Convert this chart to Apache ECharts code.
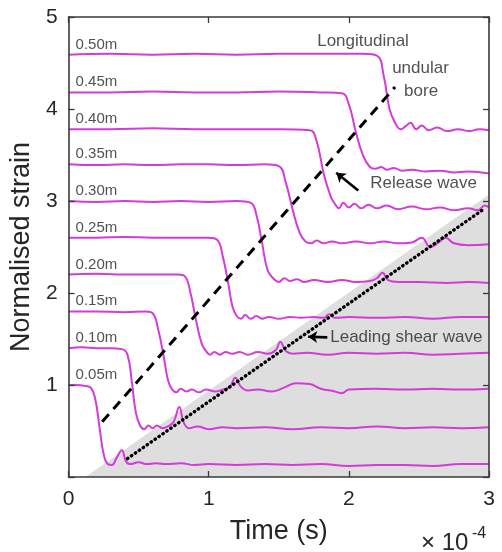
<!DOCTYPE html>
<html>
<head>
<meta charset="utf-8">
<script src="https://cdn.jsdelivr.net/npm/echarts@6/dist/echarts.min.js"></script>
<style>
  html, body { margin: 0; padding: 0; background: #fff; }
  #chart { width: 502px; height: 552px; }
</style>
</head>
<body>
<div id="chart"></div>
<script>
// strain traces, time in units of 1e-4 s, one per gauge depth
const CURVE_LABELS = ["0.05m", "0.10m", "0.15m", "0.20m", "0.25m", "0.30m", "0.35m", "0.40m", "0.45m", "0.50m"];

const S005 = [[0,1.0],[0.05,1.0],[0.12,0.99],[0.16,0.97],[0.19,0.85],[0.22,0.55],[0.25,0.25],[0.28,0.14],[0.31,0.13],
  [0.34,0.2],[0.38,0.29],[0.41,0.17],[0.44,0.14],[0.5,0.16],[0.56,0.14],[0.62,0.15],[0.7,0.14],[0.8,0.15],[0.9,0.13],
  [1.0,0.14],[1.2,0.13],[1.4,0.14],[1.6,0.13],[1.8,0.14],[2.0,0.12],[2.2,0.13],[2.4,0.13],[2.6,0.12],[2.8,0.14],[3.0,0.14]];
const S010 = [[0,1.4],[0.1,1.41],[0.2,1.4],[0.3,1.4],[0.38,1.39],[0.42,1.33],[0.45,1.05],[0.48,0.7],[0.51,0.56],[0.54,0.52],
  [0.57,0.56],[0.6,0.53],[0.63,0.56],[0.67,0.53],[0.71,0.55],[0.75,0.6],[0.79,0.76],[0.82,0.6],[0.86,0.53],[0.92,0.55],
  [1.0,0.52],[1.1,0.54],[1.2,0.53],[1.4,0.54],[1.6,0.52],[1.8,0.54],[2.0,0.53],[2.2,0.55],[2.4,0.53],[2.6,0.54],[2.8,0.53],[3.0,0.54]];
const S015 = [[0,1.8],[0.2,1.8],[0.4,1.79],[0.55,1.8],[0.6,1.78],[0.64,1.6],[0.68,1.3],[0.71,1.05],[0.74,0.95],[0.77,0.92],
  [0.8,0.96],[0.84,0.93],[0.88,0.95],[0.93,0.92],[0.98,0.95],[1.05,0.93],[1.1,0.95],[1.15,0.98],[1.19,1.08],[1.23,0.98],
  [1.28,0.94],[1.35,0.95],[1.45,0.93],[1.55,0.98],[1.62,1.02],[1.72,1.01],[1.8,0.96],[1.9,0.93],[1.95,0.91],[2.0,0.95],
  [2.2,0.96],[2.4,0.95],[2.6,0.96],[2.8,0.95],[3.0,0.96]];
const S020 = [[0,2.2],[0.2,2.21],[0.4,2.2],[0.6,2.2],[0.78,2.2],[0.83,2.18],[0.87,2.0],[0.91,1.7],[0.95,1.45],[0.98,1.37],
  [1.01,1.33],[1.04,1.36],[1.08,1.33],[1.12,1.36],[1.17,1.34],[1.22,1.36],[1.28,1.33],[1.35,1.36],[1.42,1.34],[1.48,1.38],
  [1.51,1.47],[1.55,1.37],[1.6,1.34],[1.7,1.35],[1.85,1.33],[2.0,1.35],[2.2,1.34],[2.4,1.35],[2.6,1.33],[2.8,1.34],[3.0,1.35]];
const S025 = [[0,2.6],[0.2,2.6],[0.4,2.61],[0.6,2.6],[0.8,2.6],[1.0,2.6],[1.06,2.58],[1.1,2.4],[1.14,2.1],[1.17,1.85],
  [1.2,1.75],[1.23,1.72],[1.26,1.76],[1.3,1.72],[1.34,1.75],[1.38,1.72],[1.43,1.74],[1.5,1.72],[1.58,1.74],[1.66,1.73],
  [1.75,1.74],[1.82,1.73],[1.86,1.77],[1.9,1.73],[2.0,1.74],[2.2,1.73],[2.4,1.74],[2.6,1.72],[2.8,1.74],[3.0,1.74]];
const S030 = [[0,3.0],[0.2,2.99],[0.4,3.0],[0.6,2.99],[0.8,3.0],[1.0,2.99],[1.2,3.0],[1.3,2.98],[1.34,2.85],[1.38,2.55],
  [1.42,2.25],[1.46,2.16],[1.5,2.12],[1.54,2.16],[1.58,2.13],[1.63,2.15],[1.68,2.12],[1.75,2.14],[1.85,2.12],[1.95,2.14],
  [2.05,2.12],[2.15,2.13],[2.2,2.16],[2.24,2.22],[2.28,2.14],[2.35,2.12],[2.5,2.12],[2.7,2.11],[2.85,2.12],[3.0,2.11]];
const S035 = [[0,3.4],[0.2,3.39],[0.4,3.4],[0.6,3.39],[0.8,3.4],[1.0,3.4],[1.2,3.39],[1.4,3.4],[1.5,3.38],[1.55,3.2],
  [1.6,2.9],[1.65,2.65],[1.69,2.56],[1.73,2.54],[1.77,2.57],[1.82,2.54],[1.88,2.56],[1.95,2.54],[2.05,2.56],[2.15,2.54],
  [2.25,2.56],[2.35,2.54],[2.45,2.55],[2.52,2.6],[2.58,2.5],[2.64,2.55],[2.69,2.6],[2.75,2.54],[2.85,2.52],[3.0,2.53]];
const S040 = [[0,3.78],[0.3,3.78],[0.6,3.79],[0.9,3.78],[1.2,3.78],[1.5,3.78],[1.72,3.77],[1.77,3.65],[1.82,3.3],[1.87,3.05],
  [1.9,2.97],[1.93,2.92],[1.96,2.98],[2.0,2.93],[2.04,2.97],[2.09,2.92],[2.14,2.96],[2.2,2.92],[2.27,2.95],[2.35,2.91],
  [2.45,2.94],[2.55,2.91],[2.65,2.93],[2.75,2.9],[2.85,2.92],[2.92,2.9],[2.97,2.95],[3.0,2.93]];
const S045 = [[0,4.18],[0.3,4.18],[0.6,4.19],[0.9,4.18],[1.2,4.18],[1.5,4.19],[1.8,4.18],[1.95,4.17],[2.0,4.05],[2.05,3.75],
  [2.1,3.5],[2.15,3.37],[2.19,3.35],[2.23,3.37],[2.27,3.34],[2.32,3.36],[2.38,3.33],[2.45,3.34],[2.55,3.32],[2.65,3.33],
  [2.75,3.31],[2.85,3.32],[3.0,3.3]];
const S050 = [[0,4.59],[0.3,4.6],[0.6,4.59],[0.9,4.6],[1.2,4.59],[1.5,4.6],[1.8,4.6],[2.1,4.6],[2.2,4.58],[2.25,4.35],
  [2.29,4.0],[2.33,3.85],[2.37,3.78],[2.41,3.82],[2.44,3.85],[2.48,3.78],[2.52,3.82],[2.57,3.77],[2.63,3.8],[2.7,3.76],
  [2.78,3.78],[2.86,3.76],[2.93,3.78],[3.0,3.77]];

const CURVES = [S005, S010, S015, S020, S025, S030, S035, S040, S045, S050];

// wave fronts
const RELEASE_WAVE = [[0.24, 0.6], [2.33, 4.24]];
const SHEAR_WAVE = [[0.42, 0.2], [2.97, 2.92]];
const SHEAR_ZONE = [[0.12, 0], [3, 3.07]];

const X_TICKS = [0, 1, 2, 3];
const Y_TICKS = [1, 2, 3, 4, 5];

const FONT = "Liberation Sans, Arial, Helvetica, sans-serif";
const MAGENTA = "#d43bd8";
const INK = "#262626";

const chart = echarts.init(document.getElementById("chart"));

const axisBase = {
  type: "value",
  min: 0, max: 3, interval: 1,
  z: 5,
  splitLine: { show: false },
  axisLine: { show: true, onZero: false, lineStyle: { color: "#3a3a3a", width: 1.6 } },
  axisTick: { show: true, inside: true, length: 6, lineStyle: { color: "#3a3a3a", width: 1.3 } },
};

const labelPoints = CURVES.map((c, i) => ({ value: [0.05, c[0][1] + 0.11], name: CURVE_LABELS[i] }));

// annotation anchors (data coordinates)
const notes = [
  { value: [1.774, 4.74], name: "Longitudinal" },
  { value: [2.309, 4.447], name: "undular" },
  { value: [2.394, 4.197], name: "bore" },
  { value: [2.152, 3.189], name: "Release wave" },
  { value: [1.867, 1.518], name: "Leading shear wave" },
];
const arrows = [
  { coords: [[2.067, 3.113], [1.91, 3.308]] },
  { coords: [[1.846, 1.518], [1.71, 1.525]] },
];

const series = [
  {
    type: "line", data: SHEAR_ZONE, symbol: "none", silent: true, z: 1,
    lineStyle: { width: 0 },
    areaStyle: { color: "#dedede", opacity: 1 },
  },
  ...CURVES.map((c, i) => ({
    name: CURVE_LABELS[i], type: "line", data: c, symbol: "none", smooth: 0.45, z: 3,
    lineStyle: { color: MAGENTA, width: 2 },
  })),
  {
    type: "line", data: RELEASE_WAVE, symbol: "none", z: 4,
    lineStyle: { color: "#000", width: 3, type: [10, 7] },
  },
  {
    type: "line", data: SHEAR_WAVE, symbol: "none", z: 4,
    lineStyle: { color: "#000", width: 3.4, type: [0.5, 4.3], cap: "round" },
  },
  {
    type: "lines", coordinateSystem: "cartesian2d", data: arrows, z: 4,
    symbol: ["none", "arrow"], symbolSize: 9,
    lineStyle: { color: "#000", width: 2.6, opacity: 1 },
  },
  {
    type: "scatter", data: labelPoints, symbolSize: 0, silent: true, z: 6,
    label: { show: true, position: "right", distance: 0, formatter: "{b}",
      fontFamily: FONT, fontSize: 15, color: INK },
  },
  {
    type: "scatter", data: notes, symbolSize: 0, silent: true, z: 6,
    label: { show: true, position: "right", distance: 0, formatter: "{b}",
      fontFamily: FONT, fontSize: 17, color: INK },
  },
];

chart.setOption({
  animation: false,
  backgroundColor: "#fff",
  grid: { left: 68, right: 13, top: 17, bottom: 75 },
  xAxis: [
    {
      ...axisBase, position: "bottom",
      name: "Time (s)", nameLocation: "middle", nameGap: 41,
      nameTextStyle: { fontFamily: FONT, fontSize: 27, color: INK },
      axisLabel: { margin: 12, fontFamily: FONT, fontSize: 21, color: INK,
        formatter: v => X_TICKS.includes(v) ? String(v) : "" },
    },
    { ...axisBase, position: "top", axisLabel: { show: false } },
  ],
  yAxis: [
    {
      ...axisBase, min: 0, max: 5, position: "left",
      name: "Normalised strain", nameLocation: "middle", nameGap: 27,
      nameTextStyle: { fontFamily: FONT, fontSize: 27, color: INK },
      axisLabel: { margin: 11, fontFamily: FONT, fontSize: 21, color: INK,
        formatter: v => Y_TICKS.includes(v) ? String(v) : "" },
    },
    { ...axisBase, min: 0, max: 5, position: "right", axisLabel: { show: false } },
  ],
  graphic: [
    { type: "text", left: 421, top: 531, style: { text: "× 10", font: "24px " + FONT, fill: INK } },
    { type: "text", left: 472, top: 526, style: { text: "-4", font: "16px " + FONT, fill: INK } },
  ],
  series,
});
</script>
</body>
</html>
